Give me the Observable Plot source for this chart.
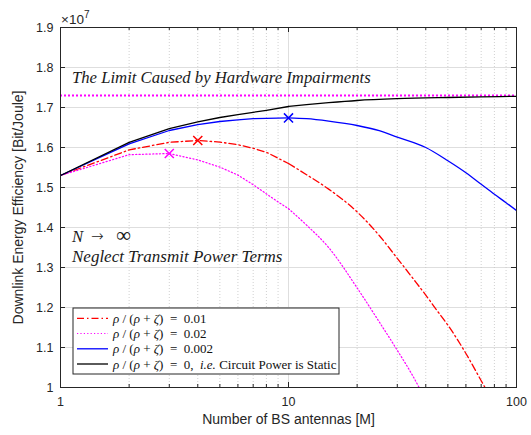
<!DOCTYPE html>
<html><head><meta charset="utf-8">
<script src="https://cdn.jsdelivr.net/npm/d3@7"></script>
<script src="https://cdn.jsdelivr.net/npm/@observablehq/plot@0.6"></script>
<style>
body{margin:0;background:#fff;}
#wrap{width:531px;height:435px;}
</style></head><body><div id="wrap"></div>
<script>
// ---- data (EE in units of 1e7 Bit/Joule) ----
const antennasRed = [1,2,3,4,5,6,7,8,10,12,15,20,25,30,35,40,45,50,60,70,80];
const eeRed = [1.530,1.594,1.613,1.6175,1.6135,1.607,1.598,1.588,1.560,1.532,1.496,1.439,1.380,1.323,1.274,1.231,1.191,1.156,1.085,1.017,0.958];
const antennasMagenta = [1,2,3,4,5,6,7,8,9,10,12,15,20,25,30,35,37,40];
const eeMagenta = [1.530,1.582,1.585,1.569,1.551,1.531,1.507,1.484,1.464,1.447,1.406,1.350,1.249,1.164,1.093,1.030,1.005,0.965];
const antennasBlue = [1,2,3,4,5,6,7,8,10,12,15,20,25,30,40,50,60,70,80,90,100];
const eeBlue = [1.530,1.609,1.6425,1.657,1.665,1.669,1.672,1.673,1.674,1.672,1.666,1.655,1.642,1.626,1.600,1.567,1.537,1.508,1.483,1.462,1.4425];
const antennasBlack = [1,2,3,4,5,6,7,8,10,12,15,20,30,50,70,100];
const eeBlack = [1.530,1.613,1.647,1.664,1.675,1.682,1.688,1.693,1.7025,1.707,1.712,1.7175,1.722,1.725,1.7265,1.728];
const hardwareLimit = 1.73;
const optimaM = [3,4,10];
const optimaEE = [1.585,1.6175,1.674];
const optimaColor = ["#ff00ff","#ff0000","#0000ff"];
const yTicks = [1,1.1,1.2,1.3,1.4,1.5,1.6,1.7,1.8,1.9];
const xMajor = [1,10,100];
const xMinor = [2,3,4,5,6,7,8,9,20,30,40,50,60,70,80,90];
const legendLabels = ["0.01","0.02","0.002","0"];

const series = [
  {M: antennasRed, ee: eeRed, stroke:"#ff0000", dash:"7,3,1.5,3", w:1.3},
  {M: antennasMagenta, ee: eeMagenta, stroke:"#ff00ff", dash:"1.2,2.2", w:1.2},
  {M: antennasBlue, ee: eeBlue, stroke:"#0000ff", dash:null, w:1.3},
  {M: antennasBlack, ee: eeBlack, stroke:"#000000", dash:null, w:1.3}
];
const rows = s => s.M.map((m,i)=>({M:m, ee:s.ee[i]}));
const optima = optimaM.map((m,i)=>({M:m, ee:optimaEE[i], c:optimaColor[i]}));

const W=531, H=435, mL=60, mR=15, mT=27, mB=48;
const fw = W-mL-mR, fh = H-mT-mB;
const axisCol = "#262626";

// integer-sampled part (straight segments) and smooth tail
const lineMarks = series.flatMap(s => {
  const r = rows(s);
  const opts = {x:"M", y:"ee", stroke:s.stroke, strokeWidth:s.w, strokeDasharray:s.dash, clip:true};
  return [
    Plot.line(r.filter(d => d.M <= 10), {...opts, curve:"linear"}),
    Plot.line(r.filter(d => d.M >= 10), {...opts, curve:"monotone-x"})
  ];
});

const plot = Plot.plot({
  width: W, height: H, marginLeft: mL, marginRight: mR, marginTop: mT, marginBottom: mB,
  style: {fontFamily: "'Liberation Sans', Arial, sans-serif", fontSize: "12.5px", color: axisCol, background: "white"},
  x: {type: "log", domain: [1,100]},
  y: {domain: [1,1.9]},
  marks: [
    Plot.ruleY(yTicks, {stroke:"#dedede", strokeWidth:1}),
    Plot.ruleX(xMinor, {stroke:"#c4c4c4", strokeWidth:0.8, strokeDasharray:"1,2"}),
    Plot.ruleX(xMajor, {stroke:"#dedede", strokeWidth:1}),
    Plot.ruleY([hardwareLimit], {stroke:"#ff00ff", strokeWidth:2.2, strokeDasharray:"2,2"}),
    ...lineMarks,
    Plot.dot(optima, {x:"M", y:"ee", stroke:"c", symbol:"times", r:4.2, strokeWidth:1.5}),
    Plot.frame({stroke: axisCol, strokeWidth: 1}),
    Plot.tickY(yTicks, {y: d=>d, insetRight: fw-5, stroke: axisCol}),
    Plot.tickY(yTicks, {y: d=>d, insetLeft: fw-5, stroke: axisCol}),
    Plot.tickX(xMajor, {x: d=>d, insetTop: fh-5, stroke: axisCol}),
    Plot.tickX(xMajor, {x: d=>d, insetBottom: fh-5, stroke: axisCol}),
    Plot.tickX(xMinor, {x: d=>d, insetTop: fh-3, stroke: axisCol}),
    Plot.tickX(xMinor, {x: d=>d, insetBottom: fh-3, stroke: axisCol}),
    Plot.axisY(yTicks, {tickSize:0, tickPadding:7, tickFormat: d => d===1 ? "1" : d.toFixed(1), label:null, fontSize:12.5}),
    Plot.axisX(xMajor, {tickSize:0, tickPadding:10, tickFormat: d => String(d), label:null, fontSize:12.5}),
    Plot.text(["Number of BS antennas [M]"], {frameAnchor:"bottom", dy:36, fontSize:14, fill:axisCol}),
    Plot.text(["Downlink Energy Efficiency [Bit/Joule]"], {frameAnchor:"left", textAnchor:"middle", dx:-42, rotate:-90, fontSize:14, fill:axisCol})
  ]
});
document.getElementById("wrap").appendChild(plot);

const svg = d3.select(plot);
const serif = "'Liberation Serif', 'Times New Roman', serif";
const over = svg.append("g").attr("text-anchor","start");
// exponent label
const ex = over.append("text").attr("x", mL+1).attr("y", mT-3).attr("fill", axisCol)
  .style("font-family","'Liberation Sans', Arial, sans-serif").style("font-size","13.5px");
ex.append("tspan").text("×10");
ex.append("tspan").attr("dy",-6).style("font-size","10px").text("7");

// annotations
over.append("text").attr("x", mL+12).attr("y", 82.5).attr("fill","#1a1a1a")
  .style("font-family", serif).style("font-size","16.7px").style("font-style","italic")
  .text("The Limit Caused by Hardware Impairments");
const nt = over.append("text").attr("y", 241.5).attr("fill","#1a1a1a")
  .style("font-family", serif).style("font-size","16.7px");
nt.append("tspan").attr("x", mL+12).style("font-style","italic").text("N");
nt.append("tspan").attr("x", mL+31).attr("dy",-1).style("font-family","'DejaVu Sans', sans-serif").style("font-size","15px").style("font-weight","300").text("→");
nt.append("tspan").attr("x", mL+56).attr("dy",1).style("font-size","21px").text("∞");
over.append("text").attr("x", mL+12).attr("y", 261.5).attr("fill","#1a1a1a")
  .style("font-family", serif).style("font-size","17px").style("font-style","italic")
  .text("Neglect Transmit Power Terms");

// legend
const lx = mL+13, ly = 308, lw = 266, lh = 66;
const lg = over.append("g");
lg.append("rect").attr("x", lx).attr("y", ly).attr("width", lw).attr("height", lh)
  .attr("fill","white").attr("stroke", axisCol).attr("stroke-width",1);
const rowY = [318.3, 333.5, 348.8, 364];
series.forEach((s,i) => {
  lg.append("line").attr("x1", lx+4).attr("x2", lx+35).attr("y1", rowY[i]).attr("y2", rowY[i])
    .attr("stroke", s.stroke).attr("stroke-width", s.w).attr("stroke-dasharray", s.dash);
  const t = lg.append("text").attr("x", lx+40).attr("y", rowY[i]+4.5).attr("fill","#111")
    .style("font-family", serif).style("font-size","13px").style("white-space","pre");
  t.append("tspan").style("font-style","italic").text("ρ");
  t.append("tspan").text(" / (");
  t.append("tspan").style("font-style","italic").text("ρ");
  t.append("tspan").text(" + ");
  t.append("tspan").style("font-style","italic").text("ζ");
  t.append("tspan").text(")  =  " + legendLabels[i] + (i===3 ? ",  " : ""));
  if (i===3) {
    t.append("tspan").style("font-style","italic").text("i.e.");
    t.append("tspan").text(" Circuit Power is Static");
  }
});
</script>
</body></html>
